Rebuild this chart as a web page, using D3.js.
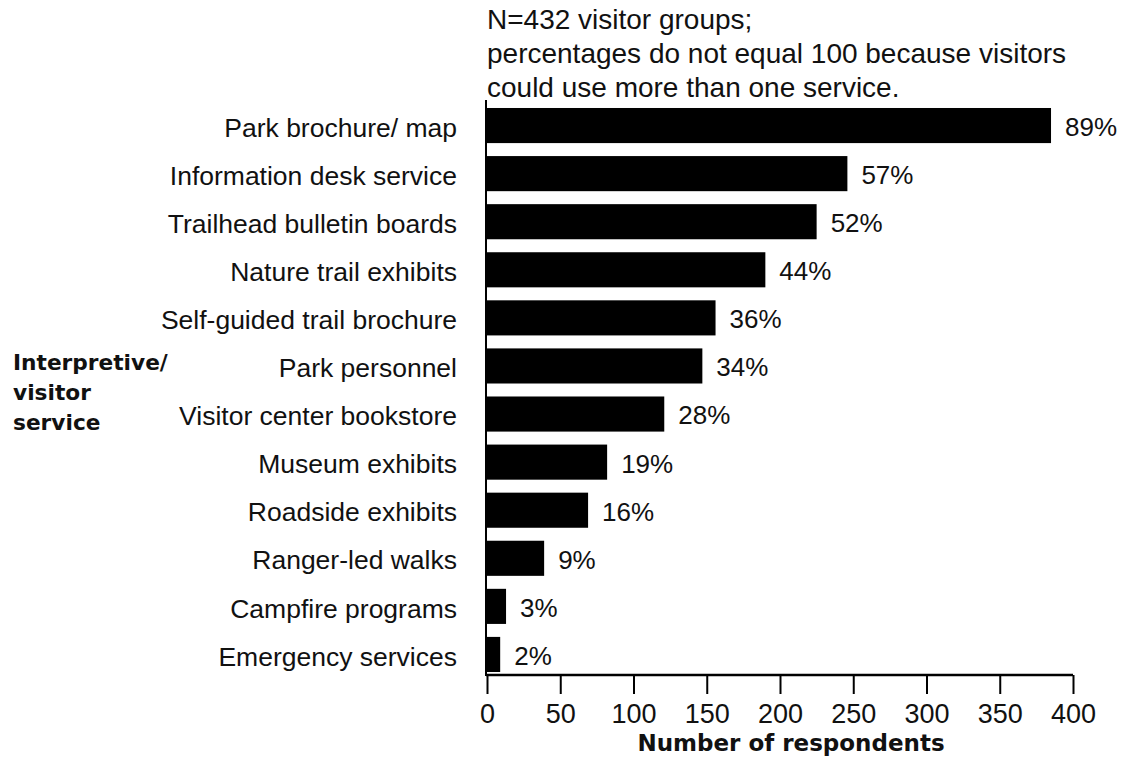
<!DOCTYPE html>
<html>
<head>
<meta charset="utf-8">
<script src="https://cdn.jsdelivr.net/npm/d3@7"></script>
<style>
  html, body { margin: 0; padding: 0; background: #ffffff; }
  svg { display: block; }
</style>
</head>
<body>
<svg id="chart" width="1125" height="761"></svg>
<script>
// ---- data ----
const categories = [
  "Park brochure/ map",
  "Information desk service",
  "Trailhead bulletin boards",
  "Nature trail exhibits",
  "Self-guided trail brochure",
  "Park personnel",
  "Visitor center bookstore",
  "Museum exhibits",
  "Roadside exhibits",
  "Ranger-led walks",
  "Campfire programs",
  "Emergency services"
];
const respondents = [385, 246, 225, 190, 156, 147, 121, 82, 69, 39, 13, 9];
const percentLabels = ["89%", "57%", "52%", "44%", "36%", "34%", "28%", "19%", "16%", "9%", "3%", "2%"];
const xTicks = [0, 50, 100, 150, 200, 250, 300, 350, 400];
const noteLines = [
  "N=432 visitor groups;",
  "percentages do not equal 100 because visitors",
  "could use more than one service."
];
const groupLabelLines = ["Interpretive/", "visitor", "service"];
const xAxisTitle = "Number of respondents";

// ---- layout ----
const svg = d3.select("#chart");
const axisX = 486;      // vertical axis line
const axisY = 675;      // horizontal axis line
const regular = "'Liberation Sans', Arial, Helvetica, sans-serif";
const heavy = "'DejaVu Sans', 'Liberation Sans', sans-serif";

const x = d3.scaleLinear().domain([0, 400]).range([487, 1073]);
const y = d3.scaleBand().domain(categories).range([101.5, 678.5])
  .paddingInner(0.27).paddingOuter(0.135);

svg.append("rect").attr("width", 1125).attr("height", 761).attr("fill", "#ffffff");

// bars
svg.append("g").selectAll("rect")
  .data(categories)
  .join("rect")
  .attr("x", x(0))
  .attr("y", d => y(d))
  .attr("width", (d, i) => x(respondents[i]) - x(0))
  .attr("height", y.bandwidth())
  .attr("fill", "#000");

// percent labels
svg.append("g").selectAll("text")
  .data(categories)
  .join("text")
  .attr("x", (d, i) => x(respondents[i]) + 14)
  .attr("y", d => y(d) + y.bandwidth() / 2)
  .attr("dy", "0.4em")
  .attr("font-family", regular)
  .attr("font-size", 26)
  .attr("fill", "#111")
  .text((d, i) => percentLabels[i]);

// y axis (category labels)
const yAxis = svg.append("g")
  .attr("transform", `translate(${axisX},0)`)
  .call(d3.axisLeft(y).tickSize(0).tickPadding(29));
yAxis.select(".domain").remove();
yAxis.selectAll("text")
  .attr("dy", "0.42em")
  .attr("font-family", regular)
  .attr("font-size", 26.5)
  .attr("fill", "#111");
svg.append("line")
  .attr("x1", axisX).attr("x2", axisX)
  .attr("y1", 100).attr("y2", axisY + 1)
  .attr("stroke", "#000").attr("stroke-width", 2);

// x axis
const xAxis = svg.append("g")
  .attr("transform", `translate(0,${axisY})`)
  .call(d3.axisBottom(x).tickValues(xTicks).tickSize(19).tickPadding(10).tickSizeOuter(0));
xAxis.select(".domain").attr("stroke", "#000").attr("stroke-width", 2.5)
  .attr("d", `M${axisX},0H${x(400)}`);
xAxis.selectAll(".tick line").attr("stroke", "#000").attr("stroke-width", 2);
xAxis.selectAll("text")
  .attr("font-family", regular)
  .attr("font-size", 27)
  .attr("fill", "#111");

// x axis title
svg.append("text")
  .attr("x", 791).attr("y", 751)
  .attr("text-anchor", "middle")
  .attr("font-family", heavy)
  .attr("font-weight", "bold")
  .attr("font-size", 23)
  .attr("fill", "#111")
  .text(xAxisTitle);

// note above the chart
svg.append("g").selectAll("text")
  .data(noteLines)
  .join("text")
  .attr("x", 487)
  .attr("y", (d, i) => 29 + i * 34)
  .attr("font-family", regular)
  .attr("font-size", 28)
  .attr("fill", "#111")
  .text(d => d);

// group label on the left
svg.append("g").selectAll("text")
  .data(groupLabelLines)
  .join("text")
  .attr("x", 13)
  .attr("y", (d, i) => 370 + i * 30)
  .attr("font-family", heavy)
  .attr("font-weight", "bold")
  .attr("font-size", 21.7)
  .attr("fill", "#111")
  .text(d => d);
</script>
</body>
</html>
